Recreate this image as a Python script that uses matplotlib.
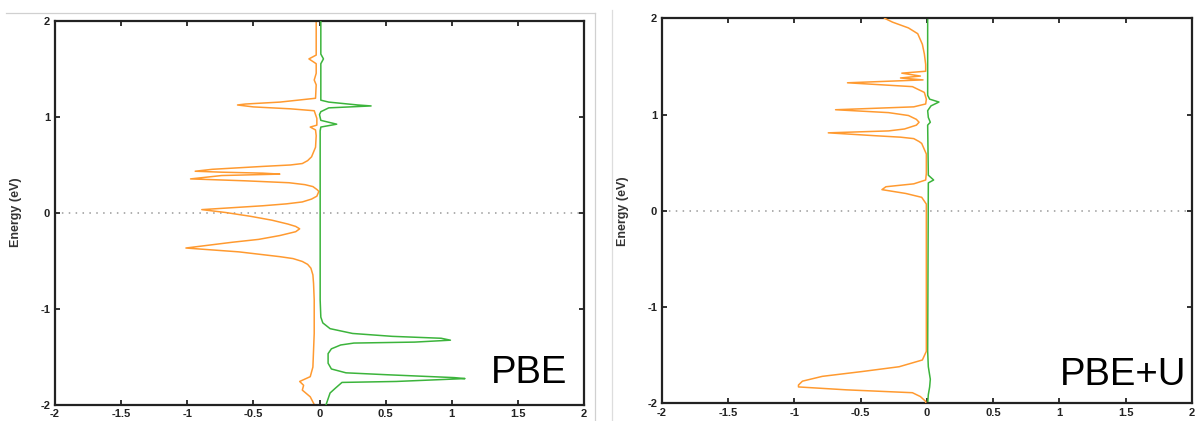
import matplotlib.pyplot as plt
from matplotlib.lines import Line2D

# PBE panel: orange (negative) and green (positive) projected DOS vs energy
pbe_orange_E = [2.0, 1.75, 1.64, 1.60, 1.55, 1.45, 1.38, 1.33, 1.19, 1.15, 1.13, 1.12,
                1.10, 1.08, 1.06, 0.98, 0.91, 0.89, 0.86, 0.80, 0.68, 0.58, 0.54, 0.51,
                0.495, 0.48, 0.45, 0.43, 0.42, 0.41, 0.40, 0.385, 0.35, 0.33, 0.31, 0.29,
                0.27, 0.24, 0.22, 0.17, 0.14, 0.11, 0.09, 0.07, 0.03, 0.0, -0.04, -0.08,
                -0.12, -0.145, -0.17, -0.20, -0.24, -0.28, -0.31, -0.37, -0.41, -0.46,
                -0.48, -0.51, -0.54, -0.58, -0.65, -0.74, -0.91, -1.26, -1.61, -1.71,
                -1.76, -1.80, -1.85, -1.92, -2.0]
pbe_orange = [-0.025, -0.025, -0.025, -0.08, -0.025, -0.025, -0.04, -0.025, -0.03, -0.30,
              -0.56, -0.62, -0.50, -0.22, -0.04, -0.02, -0.02, -0.07, -0.03, -0.025,
              -0.03, -0.06, -0.09, -0.13, -0.22, -0.43, -0.81, -0.94, -0.74, -0.43,
              -0.30, -0.74, -0.975, -0.56, -0.23, -0.11, -0.05, -0.02, -0.005, -0.02,
              -0.06, -0.13, -0.25, -0.43, -0.89, -0.71, -0.52, -0.36, -0.24, -0.18,
              -0.15, -0.18, -0.30, -0.46, -0.66, -1.01, -0.61, -0.30, -0.20, -0.13,
              -0.09, -0.065, -0.05, -0.045, -0.04, -0.04, -0.05, -0.07, -0.15, -0.12,
              -0.13, -0.07, -0.04]

pbe_green_E = [2.0, 1.65, 1.60, 1.55, 1.17, 1.15, 1.12, 1.11, 1.09, 1.05, 1.02, 0.96,
               0.92, 0.89, 0.85, -0.91, -1.09, -1.15, -1.21, -1.26, -1.29, -1.31, -1.33,
               -1.35, -1.36, -1.38, -1.42, -1.47, -1.57, -1.63, -1.67, -1.69, -1.72,
               -1.73, -1.76, -1.77, -1.83, -1.88, -2.0]
pbe_green = [0.01, 0.01, 0.03, 0.01, 0.01, 0.07, 0.29, 0.39, 0.07, 0.01, 0.0, 0.01,
             0.13, 0.01, 0.005, 0.005, 0.01, 0.025, 0.08, 0.25, 0.55, 0.92, 0.99, 0.72,
             0.26, 0.16, 0.09, 0.065, 0.065, 0.09, 0.2, 0.51, 1.02, 1.10, 0.58, 0.17,
             0.12, 0.08, 0.05]

# PBE+U panel
pbeu_orange_E = [2.0, 1.96, 1.90, 1.84, 1.73, 1.63, 1.52, 1.45, 1.43, 1.40, 1.38, 1.36,
                 1.33, 1.29, 1.23, 1.16, 1.11, 1.08, 1.05, 1.02, 0.99, 0.95, 0.92, 0.89,
                 0.85, 0.83, 0.81, 0.78, 0.765, 0.75, 0.72, 0.70, 0.59, 0.39, 0.32, 0.28,
                 0.25, 0.22, 0.18, 0.14, 0.07, 0.0, -1.46, -1.55, -1.62, -1.67, -1.72,
                 -1.77, -1.81, -1.83, -1.86, -1.89, -1.93, -1.98, -2.0]
pbeu_orange = [-0.32, -0.26, -0.14, -0.07, -0.035, -0.02, -0.01, -0.01, -0.19, -0.05,
               -0.20, -0.03, -0.60, -0.11, -0.02, -0.005, -0.01, -0.10, -0.69, -0.29,
               -0.14, -0.08, -0.06, -0.08, -0.17, -0.29, -0.745, -0.39, -0.2, -0.10,
               -0.06, -0.04, -0.005, -0.005, -0.01, -0.10, -0.31, -0.34, -0.16, -0.04,
               -0.005, -0.005, -0.005, -0.035, -0.21, -0.49, -0.79, -0.94, -0.97, -0.97,
               -0.61, -0.11, -0.05, -0.01, -0.01]

pbeu_green_E = [2.0, 1.20, 1.16, 1.13, 1.09, 1.04, 0.97, 0.92, 0.89, 0.37, 0.32, 0.29,
                -1.46, -1.62, -1.75, -1.83, -1.91, -2.0]
pbeu_green = [0.005, 0.005, 0.02, 0.09, 0.03, 0.005, 0.01, 0.025, 0.005, 0.01, 0.05,
              0.01, 0.005, 0.01, 0.025, 0.02, 0.01, 0.005]

panels = [
    ("PBE", pbe_orange_E, pbe_orange, pbe_green_E, pbe_green),
    ("PBE+U", pbeu_orange_E, pbeu_orange, pbeu_green_E, pbeu_green),
]

ORANGE = '#ff9a30'
GREEN = '#3cb43c'

plt.rcParams['font.family'] = ['Liberation Sans', 'DejaVu Sans']
plt.rcParams['axes.unicode_minus'] = False
fig = plt.figure(figsize=(11.97, 4.21), dpi=100)

rects = [[0.04595, 0.03919, 0.44194, 0.91211],
         [0.55305, 0.04204, 0.44277, 0.91449]]
label_pos = [(0.968, 0.056), (0.989, 0.048)]

for (name, oE, o, gE, g), rect, (tx, ty) in zip(panels, rects, label_pos):
    ax = fig.add_axes(rect)
    ax.axhline(0, color='#999999', lw=1.1, ls=(0, (1, 3.5)), zorder=1)
    if name == "PBE":
        ax.plot(o, oE, color=ORANGE, lw=1.1, zorder=2)
        ax.plot(g, gE, color=GREEN, lw=1.1, zorder=3)
    else:
        ax.plot(g, gE, color=GREEN, lw=1.1, zorder=2)
        ax.plot(o, oE, color=ORANGE, lw=1.1, zorder=3)
    ax.set_xlim(-2, 2)
    ax.set_ylim(-2, 2)
    ax.set_xticks([-2, -1.5, -1, -0.5, 0, 0.5, 1, 1.5, 2])
    ax.set_xticklabels(['-2', '-1.5', '-1', '-0.5', '0', '0.5', '1', '1.5', '2'])
    ax.set_yticks([-2, -1, 0, 1, 2])
    ax.set_yticklabels(['-2', '-1', '0', '1', '2'])
    ax.tick_params(direction='in', length=3.5, width=1.3, top=True, right=True,
                   labelsize=8, pad=3.5, colors='#222222')
    for lab in ax.get_xticklabels() + ax.get_yticklabels():
        lab.set_fontweight('bold')
    for sp in ax.spines.values():
        sp.set_linewidth(1.6)
        sp.set_color('#222222')
    ax.set_ylabel('Energy (eV)', fontsize=9, fontweight='bold', color='#333333')
    ax.yaxis.set_label_coords(-0.062, 0.5)
    ax.text(tx, ty, name, transform=ax.transAxes, ha='right', va='baseline',
            fontsize=27.5, color='black')

# light frame lines around the two screenshots
W, H = 1197.0, 421.0
fig.add_artist(Line2D([6 / W, 595 / W], [1 - 13 / H, 1 - 13 / H], color='#d0d0d0', lw=0.9))
fig.add_artist(Line2D([595 / W, 595 / W], [1 - 13 / H, 0], color='#d0d0d0', lw=0.9))
fig.add_artist(Line2D([612 / W, 612 / W], [1 - 10 / H, 0], color='#dddddd', lw=0.9))

fig.savefig('out.png', dpi=100)
